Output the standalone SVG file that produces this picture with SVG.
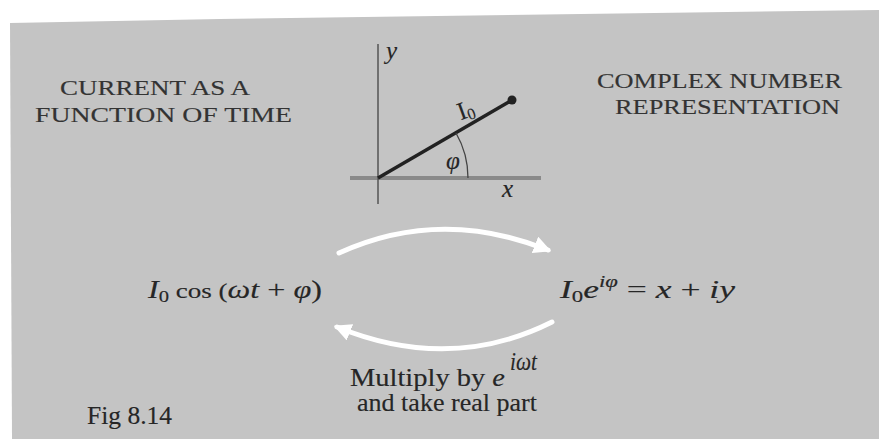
<svg xmlns="http://www.w3.org/2000/svg" width="879" height="439" viewBox="0 0 879 439">
<defs>
<style>
.cap{font-family:"Liberation Serif",serif;font-size:22px;fill:#333;stroke:#333;stroke-width:0.15;}
.m{font-family:"Liberation Serif",serif;font-size:25px;fill:#262626;stroke:#262626;stroke-width:0.15;}
.i{font-style:italic;}
.arc{fill:none;stroke:#ffffff;stroke-width:5;stroke-linecap:round;}
</style>
<marker id="ah" viewBox="0 0 10 10" refX="8" refY="5" markerWidth="3.5" markerHeight="3.5" orient="auto" markerUnits="strokeWidth">
<path d="M0,0 L10,5 L0,10 z" fill="#ffffff"/>
</marker>
</defs>
<rect width="879" height="439" fill="#ffffff"/>
<polygon points="10,23 220,19 879,10 879,439 12,439" fill="#c4c4c4"/>
<g id="title-left">
<text class="cap" x="60" y="95" textLength="190" lengthAdjust="spacingAndGlyphs">CURRENT AS A</text>
<text class="cap" x="35" y="122" textLength="257" lengthAdjust="spacingAndGlyphs">FUNCTION OF TIME</text>
</g>
<g id="title-right">
<text class="cap" x="597" y="88" textLength="245" lengthAdjust="spacingAndGlyphs">COMPLEX NUMBER</text>
<text class="cap" x="615" y="114" textLength="225" lengthAdjust="spacingAndGlyphs">REPRESENTATION</text>
</g>
<g id="phasor">
<line x1="350" y1="178" x2="541" y2="178" stroke="#8a8a8a" stroke-width="4"/>
<line x1="378" y1="44" x2="378" y2="204" stroke="#555" stroke-width="1.5"/>
<line x1="378" y1="178" x2="512" y2="100" stroke="#222" stroke-width="3.5"/>
<circle cx="512" cy="100" r="4.5" fill="#222"/>
<path d="M456,133 A90,90 0 0 1 468,178" fill="none" stroke="#444" stroke-width="1.3"/>
<text class="m i" x="386" y="59" font-size="18">y</text>
<text class="m i" x="502" y="197" font-size="18">x</text>
<text class="m" x="457" y="117" font-size="22" transform="rotate(-20 468 108)">I<tspan dy="3" font-size="16">0</tspan></text>
<text class="m i" x="446" y="169" font-size="21">φ</text>
</g>
<g id="connectors">
<path class="arc" d="M339,253 Q440,207 548,250" marker-end="url(#ah)"/>
<path class="arc" d="M552,322 Q450,373 337,327" marker-end="url(#ah)"/>
</g>
<g id="expr-left">
<text class="m" x="148" y="298" textLength="174" lengthAdjust="spacingAndGlyphs"><tspan class="i">I</tspan><tspan dy="4" font-size="16">0</tspan><tspan dy="-4" font-size="21"> cos (</tspan><tspan class="i">ωt</tspan> + <tspan class="i">φ</tspan>)</text>
</g>
<g id="expr-right">
<text class="m" x="560" y="298" textLength="175" lengthAdjust="spacingAndGlyphs"><tspan class="i">I</tspan><tspan dy="4" font-size="16">0</tspan><tspan dy="-4" class="i">e</tspan><tspan dy="-11" font-size="16" class="i">iφ</tspan><tspan dy="11"> = </tspan><tspan class="i">x</tspan> + <tspan class="i">iy</tspan></text>
</g>
<g id="label-bottom">
<text class="m" x="350" y="386" font-size="26" textLength="155" lengthAdjust="spacingAndGlyphs">Multiply by <tspan class="i">e</tspan></text>
<text class="m i" x="510" y="370" font-size="14" textLength="27" lengthAdjust="spacingAndGlyphs">iωt</text>
<text class="m" x="357" y="411" font-size="26" textLength="180" lengthAdjust="spacingAndGlyphs">and take real part</text>
</g>
<g id="caption">
<text class="m" x="87" y="424" font-size="28" textLength="85" lengthAdjust="spacingAndGlyphs">Fig 8.14</text>
</g>
</svg>
